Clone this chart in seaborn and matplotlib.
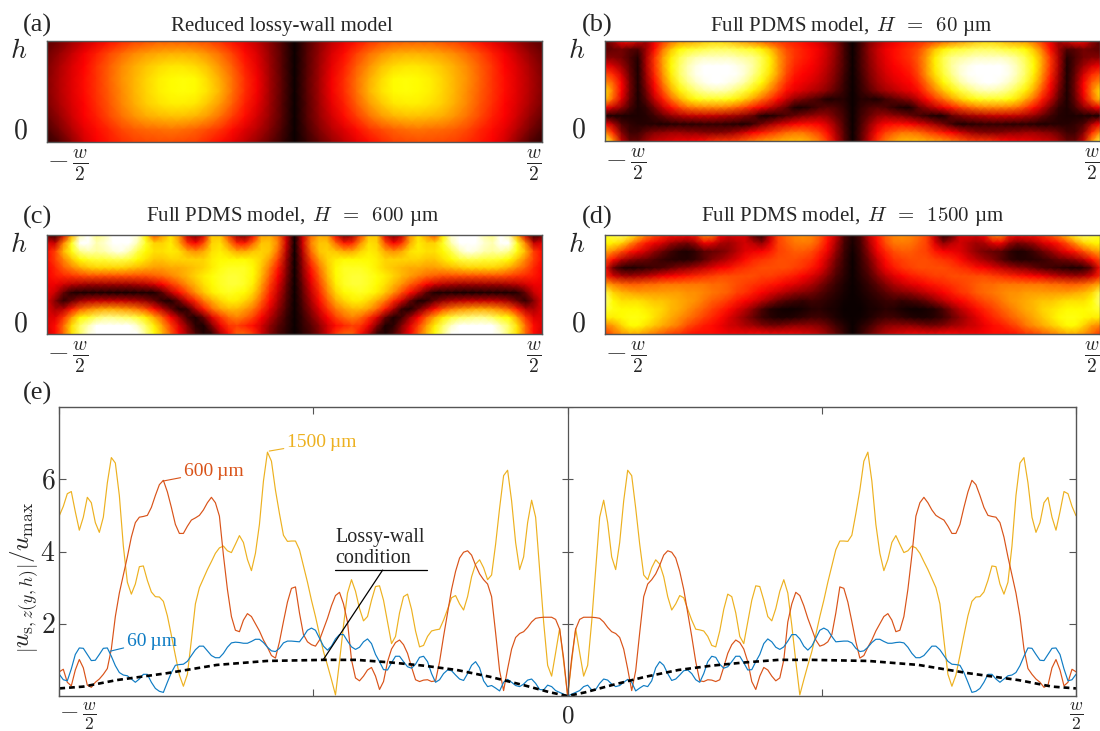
import numpy as np
import pandas as pd
import matplotlib
matplotlib.use("Agg")
import matplotlib.pyplot as plt
import seaborn as sns

# heat maps: left half of each panel, left edge -> centre, top row first, in % of colour scale
panel_a = [
    [12, 16, 22, 28, 33, 38, 42, 46, 48, 50, 50, 50, 49, 47, 43, 38, 33, 27, 19, 10, 0],
    [15, 21, 28, 35, 41, 47, 52, 57, 60, 62, 63, 63, 62, 58, 53, 46, 38, 31, 21, 11, 0],
    [17, 24, 31, 37, 44, 50, 57, 62, 66, 69, 71, 71, 69, 65, 58, 50, 41, 33, 22, 11, 0],
    [18, 25, 32, 38, 44, 51, 58, 63, 68, 72, 74, 75, 74, 69, 62, 53, 43, 35, 23, 12, 0],
    [18, 25, 32, 38, 44, 50, 57, 63, 68, 72, 74, 75, 74, 70, 63, 53, 43, 35, 23, 12, 0],
    [17, 24, 31, 37, 43, 49, 56, 62, 67, 70, 72, 72, 71, 66, 59, 50, 41, 33, 22, 11, 0],
    [14, 21, 29, 36, 41, 47, 53, 58, 62, 64, 65, 65, 63, 59, 53, 45, 38, 30, 21, 11, 0],
    [10, 17, 25, 33, 38, 42, 47, 50, 52, 53, 54, 53, 51, 48, 44, 38, 32, 26, 18, 9, 0],
    [6, 11, 20, 30, 36, 40, 43, 46, 47, 48, 48, 47, 46, 42, 38, 33, 27, 21, 14, 7, 0],
]
panel_b = [
    [12, 22, 36, 38, 30, 22, 34, 44, 52, 58, 60, 62, 66, 68, 68, 66, 62, 58, 54, 50, 46, 44, 42, 40, 38, 34, 30, 24, 18, 8, 0],
    [12, 14, 16, 12, 10, 22, 38, 54, 66, 74, 78, 80, 82, 84, 84, 84, 82, 80, 78, 73, 66, 56, 48, 44, 41, 38, 34, 28, 20, 9, 0],
    [18, 18, 16, 10, 4, 24, 44, 60, 72, 82, 88, 92, 94, 94, 94, 94, 92, 90, 88, 82, 72, 60, 50, 44, 41, 38, 33, 27, 19, 9, 0],
    [34, 30, 22, 12, 3, 24, 44, 60, 74, 84, 92, 97, 100, 100, 100, 100, 98, 95, 90, 82, 72, 60, 49, 42, 39, 36, 32, 26, 18, 9, 0],
    [48, 42, 30, 14, 3, 22, 42, 58, 72, 84, 92, 98, 100, 100, 100, 100, 99, 95, 88, 80, 70, 59, 47, 40, 37, 34, 30, 24, 17, 8, 0],
    [58, 50, 36, 16, 3, 20, 38, 54, 68, 80, 88, 94, 98, 100, 100, 98, 95, 90, 82, 74, 64, 53, 43, 37, 34, 31, 27, 22, 15, 7, 0],
    [70, 54, 36, 16, 3, 16, 34, 48, 62, 72, 80, 86, 90, 92, 92, 90, 85, 80, 72, 65, 56, 47, 38, 33, 30, 26, 23, 18, 12, 6, 0],
    [66, 50, 32, 14, 3, 12, 27, 40, 52, 62, 70, 75, 78, 78, 78, 76, 72, 67, 60, 52, 45, 37, 28, 20, 16, 12, 8, 3, 4, 4, 0],
    [36, 28, 20, 9, 3, 6, 16, 28, 38, 46, 52, 55, 56, 56, 56, 54, 50, 46, 40, 34, 27, 20, 13, 3, 3, 6, 10, 12, 10, 6, 0],
    [3, 3, 3, 3, 3, 4, 8, 14, 20, 24, 27, 28, 28, 28, 26, 24, 22, 18, 13, 3, 3, 6, 10, 14, 18, 20, 22, 20, 14, 8, 0],
    [36, 24, 10, 6, 4, 4, 4, 3, 4, 5, 5, 5, 6, 6, 6, 5, 4, 3, 8, 16, 22, 28, 32, 36, 38, 38, 36, 30, 20, 9, 0],
    [58, 42, 18, 8, 8, 14, 18, 20, 22, 22, 20, 20, 18, 18, 18, 20, 24, 30, 36, 40, 44, 48, 52, 54, 54, 50, 46, 38, 24, 11, 0],
    [80, 58, 28, 14, 14, 22, 28, 30, 32, 34, 34, 36, 38, 42, 44, 44, 46, 50, 54, 58, 60, 62, 64, 64, 64, 60, 54, 44, 28, 12, 0],
]
panel_c = [
    [12, 6, 30, 62, 92, 100, 88, 92, 100, 100, 100, 96, 72, 48, 60, 70, 58, 28, 16, 32, 66, 66, 46, 22, 16, 36, 60, 62, 52, 28, 0],
    [32, 28, 56, 78, 100, 100, 92, 95, 100, 100, 100, 92, 78, 68, 68, 72, 62, 44, 36, 48, 68, 70, 58, 42, 40, 52, 66, 66, 56, 30, 0],
    [38, 46, 64, 76, 88, 92, 90, 92, 96, 98, 92, 82, 74, 70, 70, 72, 70, 62, 58, 62, 70, 72, 68, 62, 62, 66, 68, 66, 52, 26, 0],
    [38, 46, 56, 66, 74, 78, 80, 80, 82, 82, 80, 74, 70, 66, 66, 68, 68, 68, 68, 68, 72, 74, 74, 74, 74, 72, 68, 60, 46, 22, 0],
    [36, 42, 50, 56, 62, 66, 68, 68, 68, 68, 66, 64, 62, 60, 60, 62, 62, 64, 66, 68, 72, 76, 78, 78, 78, 74, 66, 54, 40, 20, 0],
    [36, 40, 42, 44, 46, 48, 48, 48, 48, 48, 48, 48, 48, 50, 52, 56, 60, 64, 68, 72, 75, 78, 80, 80, 78, 74, 64, 50, 36, 18, 0],
    [34, 34, 30, 26, 24, 22, 22, 22, 22, 22, 22, 24, 26, 30, 36, 44, 50, 58, 64, 70, 74, 78, 80, 80, 78, 72, 60, 46, 32, 15, 0],
    [34, 28, 14, 4, 3, 3, 3, 3, 2, 2, 2, 3, 3, 3, 12, 26, 38, 48, 58, 66, 72, 76, 78, 76, 74, 68, 56, 42, 28, 13, 0],
    [32, 18, 6, 14, 22, 26, 28, 28, 28, 28, 26, 24, 20, 14, 5, 3, 14, 30, 42, 54, 62, 68, 72, 72, 68, 62, 50, 38, 24, 11, 0],
    [32, 24, 26, 40, 50, 56, 60, 62, 62, 60, 58, 54, 48, 38, 26, 14, 3, 6, 24, 40, 52, 60, 64, 64, 60, 54, 44, 32, 20, 9, 0],
    [32, 32, 44, 60, 74, 78, 84, 88, 88, 86, 84, 80, 72, 62, 50, 36, 22, 8, 3, 14, 32, 44, 52, 56, 52, 46, 36, 26, 16, 7, 0],
    [32, 38, 52, 70, 84, 92, 100, 100, 100, 100, 100, 94, 84, 72, 60, 46, 32, 18, 5, 3, 18, 34, 44, 46, 42, 38, 30, 20, 12, 6, 0],
    [30, 38, 52, 70, 84, 96, 100, 100, 100, 100, 100, 100, 88, 76, 64, 50, 36, 22, 10, 3, 6, 24, 38, 50, 50, 44, 30, 18, 10, 5, 0],
]
panel_d = [
    [78, 82, 84, 78, 66, 56, 48, 42, 38, 38, 36, 40, 56, 54, 36, 30, 32, 30, 12, 5, 26, 46, 52, 56, 58, 56, 50, 40, 28, 10, 3],
    [74, 72, 68, 58, 48, 40, 34, 30, 22, 18, 16, 22, 34, 32, 24, 22, 26, 30, 26, 20, 32, 46, 50, 54, 55, 54, 48, 38, 24, 9, 2],
    [62, 56, 48, 40, 34, 28, 20, 14, 8, 4, 3, 6, 12, 14, 16, 20, 26, 32, 34, 36, 40, 46, 48, 50, 50, 48, 42, 34, 20, 8, 1],
    [48, 38, 26, 20, 16, 14, 10, 7, 5, 4, 4, 7, 12, 18, 22, 27, 32, 38, 42, 44, 46, 48, 48, 48, 46, 44, 38, 28, 16, 7, 0],
    [38, 14, 5, 3, 4, 6, 8, 10, 14, 18, 20, 24, 28, 32, 36, 38, 42, 44, 46, 48, 48, 48, 48, 46, 44, 40, 34, 24, 13, 6, 0],
    [42, 30, 24, 22, 24, 26, 30, 34, 36, 38, 40, 42, 44, 46, 48, 48, 48, 48, 48, 46, 46, 44, 42, 40, 36, 32, 26, 18, 10, 5, 0],
    [62, 56, 52, 50, 50, 52, 52, 54, 54, 54, 54, 54, 54, 52, 52, 50, 48, 46, 44, 42, 40, 38, 34, 32, 28, 24, 18, 12, 7, 3, 0],
    [82, 68, 64, 62, 60, 60, 60, 60, 60, 60, 58, 58, 56, 54, 52, 50, 46, 44, 40, 36, 32, 28, 24, 20, 18, 16, 12, 8, 5, 2, 0],
    [86, 74, 70, 70, 70, 68, 66, 66, 64, 62, 60, 58, 54, 50, 48, 44, 40, 36, 32, 26, 20, 14, 10, 8, 6, 8, 7, 5, 3, 1, 0],
    [80, 76, 74, 74, 74, 72, 70, 68, 64, 62, 58, 54, 50, 46, 42, 38, 32, 26, 18, 10, 4, 2, 1, 1, 2, 4, 5, 3, 2, 0, 0],
    [72, 72, 74, 76, 76, 74, 70, 66, 62, 58, 54, 50, 46, 42, 38, 32, 26, 20, 14, 8, 5, 3, 3, 4, 6, 8, 8, 6, 3, 1, 0],
    [56, 60, 68, 74, 74, 70, 66, 62, 58, 54, 48, 44, 40, 38, 34, 30, 28, 24, 22, 18, 16, 16, 18, 20, 20, 20, 18, 14, 8, 4, 0],
    [44, 52, 58, 62, 62, 58, 54, 50, 46, 44, 40, 38, 38, 38, 36, 34, 34, 34, 36, 36, 34, 34, 34, 34, 32, 30, 26, 20, 13, 6, 0],
]

titles = [
    "Reduced lossy-wall model",
    r"Full PDMS model, $\,H\ \,=\ \,60\,\,$µm",
    r"Full PDMS model, $\,H\ \,=\ \,600\,\,$µm",
    r"Full PDMS model, $\,H\ \,=\ \,1500\,\,$µm",
]
letters = ["(a)", "(b)", "(c)", "(d)"]

# line plot, left half only, one value every 12 units of the half width (1524 units)
curve_1500 = [
    4.99, 5.25, 5.6, 5.66, 5.1, 4.59, 4.95, 5.5, 5.35, 4.8, 4.53, 4.95, 5.9, 6.6, 6.45, 5.55,
    4.15, 3.15, 2.82, 3.1, 3.58, 3.6, 3.2, 2.88, 2.75, 2.74, 2.62, 2.22, 1.68, 1.12, 0.58, 0.27,
    0.6, 1.55, 2.55, 3.0, 3.25, 3.5, 3.72, 3.95, 4.1, 4.15, 4.02, 3.97, 4.2, 4.44, 4.25, 3.78,
    3.47, 3.95, 4.75, 5.95, 6.75, 6.5, 5.7, 5.05, 4.45, 4.28, 4.29, 4.29, 4.05, 3.6, 3.15, 2.65,
    2.2, 1.7, 1.23, 0.85, 0.45, 0.03, 0.95, 1.95, 2.85, 3.22, 2.9, 2.42, 2.08, 2.2, 2.65, 3.03,
    3.05, 2.65, 2.05, 1.45, 1.65, 2.3, 2.75, 2.82, 2.4, 1.8, 1.36, 1.4, 1.65, 1.8, 1.83, 1.85,
    2.1, 2.4, 2.72, 2.78, 2.55, 2.38, 2.75, 3.3, 3.65, 3.77, 3.55, 3.22, 3.35, 4.2, 5.2, 6.1,
    6.25, 5.4, 4.25, 3.5, 3.85, 4.8, 5.42, 4.95, 3.5, 2.05, 0.85, 0.55, 1.2, 1.87, 0.95, 0.0,
]
curve_600 = [
    0.67, 0.74, 0.38, 0.28, 0.72, 1.01, 0.78, 0.3, 0.24, 0.38, 0.47, 0.6, 0.76, 1.3, 2.2, 2.85,
    3.35, 3.85, 4.4, 4.8, 4.95, 4.97, 5.0, 5.22, 5.55, 5.85, 5.97, 5.65, 5.22, 4.75, 4.5, 4.5,
    4.7, 4.87, 4.93, 5.0, 5.15, 5.35, 5.5, 5.35, 4.98, 3.9, 2.95, 2.2, 1.82, 1.78, 2.1, 2.28,
    2.2, 2.0, 1.8, 1.55, 1.35, 1.12, 1.05, 1.5, 2.06, 2.6, 2.98, 3.02, 2.3, 1.7, 1.5, 1.42,
    1.38, 1.55, 1.85, 2.15, 2.5, 2.78, 2.87, 2.55, 2.05, 1.0, 0.5, 0.42, 0.55, 0.72, 0.79, 0.55,
    0.18, 0.4, 0.95, 1.3, 1.48, 1.55, 1.42, 1.18, 0.8, 0.45, 0.4, 0.44, 0.45, 0.4, 0.42, 0.95,
    1.65, 2.3, 2.95, 3.45, 3.82, 3.98, 4.02, 3.9, 3.62, 3.38, 3.22, 3.1, 2.75, 1.75, 0.7, 0.15,
    0.75, 1.3, 1.62, 1.73, 1.78, 1.9, 2.05, 2.15, 2.17, 2.18, 2.18, 2.18, 2.12, 1.85, 1.04, 0.0,
]
curve_60 = [
    0.6, 0.45, 0.42, 0.75, 1.15, 1.33, 1.32, 1.15, 0.98, 0.99, 1.15, 1.32, 1.33, 1.1, 0.84, 0.65,
    0.58, 0.56, 0.47, 0.38, 0.47, 0.6, 0.6, 0.38, 0.21, 0.13, 0.1, 0.38, 0.65, 0.85, 0.87, 0.88,
    0.96, 1.12, 1.28, 1.38, 1.38, 1.25, 1.12, 1.06, 1.06, 1.18, 1.35, 1.47, 1.49, 1.48, 1.46, 1.46,
    1.51, 1.57, 1.57, 1.48, 1.35, 1.25, 1.23, 1.32, 1.47, 1.52, 1.52, 1.51, 1.5, 1.65, 1.82, 1.88,
    1.82, 1.6, 1.38, 1.27, 1.38, 1.58, 1.7, 1.7, 1.52, 1.36, 1.29, 1.35, 1.5, 1.58, 1.45, 1.15,
    0.95, 0.73, 0.72, 0.92, 1.1, 1.1, 0.95, 0.81, 0.77, 0.88, 1.07, 1.1, 0.95, 0.62, 0.38, 0.45,
    0.62, 0.72, 0.7, 0.58, 0.47, 0.43, 0.62, 0.85, 0.95, 0.78, 0.42, 0.26, 0.29, 0.22, 0.14, 0.38,
    0.46, 0.38, 0.29, 0.26, 0.33, 0.44, 0.47, 0.35, 0.18, 0.17, 0.3, 0.26, 0.15, 0.1, 0.05, 0.0,
]
lossy_pos = [0, 72, 172, 322, 472, 622, 792, 892, 992, 1092, 1192, 1292, 1392, 1472, 1524]
lossy_val = [0.21, 0.26, 0.44, 0.63, 0.86, 0.97, 1.0, 1.0, 0.93, 0.84, 0.72, 0.53, 0.30, 0.10, 0.0]

colors = {"1500": "#EDB120", "600": "#D95319", "60": "#0F7CC4"}
frame = "#555555"


def px_axes(fig, x0, y0, x1, y1):
    return fig.add_axes([x0 / 1100, 1 - y1 / 731, (x1 - x0) / 1100, (y1 - y0) / 731])


sns.set_style("white")
plt.rcParams["font.family"] = ["Liberation Serif", "DejaVu Serif"]
plt.rcParams["mathtext.fontset"] = "cm"

fig = plt.figure(figsize=(11, 7.31), dpi=100)

boxes = [(47, 41, 542, 142), (605, 41, 1100, 141), (47, 235, 542, 334), (605, 235, 1100, 334)]
letter_pos = [(23, 25), (582, 25), (23, 217), (582, 217)]
title_x = [0.475, 0.497, 0.495, 0.5]
title_pad = [7, 7, 10, 10]
for i, half in enumerate([panel_a, panel_b, panel_c, panel_d]):
    half = np.array(half) / 100
    full = np.hstack([half, half[:, -2::-1]])
    rows, cols = full.shape
    ax = px_axes(fig, *boxes[i])
    sns.heatmap(pd.DataFrame(full), ax=ax, cmap="hot", vmin=0, vmax=1, cbar=False, shading="gouraud")
    ax.set_xlim(0, cols - 1)
    ax.set_ylim(rows - 1, 0)
    ax.set_xticks([0, cols - 1], [r"$-\,\frac{w}{2}$", r"$\frac{w}{2}$"], fontsize=20)
    ax.set_yticks([0.105 * (rows - 1), 0.905 * (rows - 1)], [r"$h$", r"$0$"], fontsize=20, rotation=0)
    ax.tick_params(length=0)
    ax.tick_params(axis="x", pad=17)
    ax.tick_params(axis="y", pad=14)
    labels = ax.get_xticklabels()
    labels[0].set_ha("left")
    labels[1].set_ha("right")
    for lab in labels:
        lab.set_va("center")
    for sp in ax.spines.values():
        sp.set_visible(True)
        sp.set_color(frame)
        sp.set_linewidth(1)
    ax.set_title(titles[i], fontsize=15, pad=title_pad[i], x=title_x[i])
    fig.text(letter_pos[i][0] / 1100, 1 - letter_pos[i][1] / 731, letters[i], fontsize=19, ha="left", va="center")

# bottom panel
pos = np.arange(len(curve_60)) * 12 / 1524 - 1
lossy_x = np.array(lossy_pos) / 1524 - 1

ax = px_axes(fig, 59.3, 407, 1076, 696)
for vals, key in [(curve_1500, "1500"), (curve_600, "600"), (curve_60, "60")]:
    x = np.concatenate([pos, -pos[-2::-1]])
    y = np.concatenate([vals, vals[-2::-1]])
    sns.lineplot(x=x, y=y, ax=ax, color=colors[key], lw=0.85, sort=False, errorbar=None)
x = np.concatenate([lossy_x, -lossy_x[-2::-1]])
y = np.concatenate([lossy_val, lossy_val[-2::-1]])
sns.lineplot(x=x, y=y, ax=ax, color="black", lw=1.9, linestyle=(0, (2.2, 1.5)), sort=False, errorbar=None)

ax.set_xlim(-1, 1)
ax.set_ylim(0, 8)
ax.set_xticks([-1, -0.5, 0, 0.5, 1], [r"$-\,\frac{w}{2}$", "", r"$0$", "", r"$\frac{w}{2}$"], fontsize=18)
ax.set_yticks([2, 4, 6], [r"$2$", r"$4$", r"$6$"], fontsize=20)
ax.tick_params(direction="in", top=True, right=True, bottom=True, left=True, length=5, width=0.8, color=frame)
ax.tick_params(axis="x", pad=15)
ax.tick_params(axis="y", pad=3)
labels = ax.get_xticklabels()
labels[0].set_ha("left")
for lab in labels:
    lab.set_va("center")
for sp in ax.spines.values():
    sp.set_visible(True)
    sp.set_color(frame)
    sp.set_linewidth(1)
ax.axvline(0, color=frame, lw=0.9)
ax.hlines([2, 4, 6, 8], -0.011, 0.011, color=frame, lw=0.8)

fig.text(25 / 1100, 1 - 577 / 731, r"$\left|u_{\mathrm{s},z(y,h)}\right|/u_{\mathrm{max}}$",
         rotation=90, fontsize=18, ha="center", va="center")
fig.text(23 / 1100, 1 - 393 / 731, "(e)", fontsize=19, ha="left", va="center")

ax.annotate("600\u2009µm", xy=(-0.796, 5.95), xytext=(-0.755, 6.22), color=colors["600"], fontsize=14,
            va="center", arrowprops=dict(arrowstyle="-", color=colors["600"], lw=0.8, shrinkA=0, shrinkB=0))
ax.annotate("1500\u2009µm", xy=(-0.587, 6.78), xytext=(-0.552, 7.03), color=colors["1500"], fontsize=14,
            va="center", arrowprops=dict(arrowstyle="-", color=colors["1500"], lw=0.8, shrinkA=0, shrinkB=0))
ax.annotate("60\u2009µm", xy=(-0.9, 1.24), xytext=(-0.867, 1.52), color=colors["60"], fontsize=14,
            va="center", arrowprops=dict(arrowstyle="-", color=colors["60"], lw=0.8, shrinkA=0, shrinkB=0))
ax.text(-0.457, 4.09, "Lossy-wall\ncondition", fontsize=14.5, ha="left", va="center", linespacing=1.15)
ax.plot([-0.457, -0.276], [3.485, 3.485], color="black", lw=0.9)
ax.annotate("", xy=(-0.481, 1.0), xytext=(-0.364, 3.485),
            arrowprops=dict(arrowstyle="-", color="black", lw=0.9, shrinkA=0, shrinkB=0))

fig.savefig("out.png", dpi=100)
